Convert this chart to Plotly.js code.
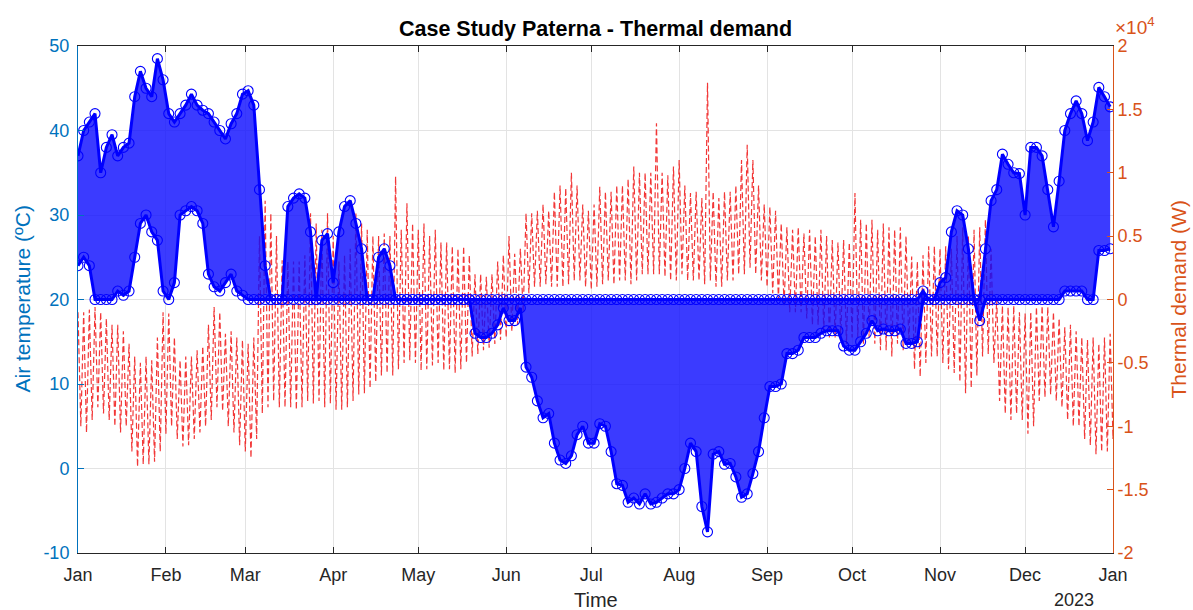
<!DOCTYPE html>
<html>
<head>
<meta charset="utf-8">
<script src="https://cdn.plot.ly/plotly-3.0.1.min.js"></script>
<style>html,body{margin:0;padding:0;background:#fff}#chart{width:1193px;height:610px}</style>
</head>
<body>
<div id="chart"></div>
<script>
// Sampling: one entry every 2 days starting 2022-01-01 (183 entries)
const startDate = '2022-01-01';
const stepDays = 2;

// Air temperature envelope (ºC): upper and lower edge of the hourly cloud of circles
const tempHigh = [
 37,40,41,42,35,38,39.5,37,38,38.5,44,47,45,44,48.5,46,42,41,42,43,
 44.3,43,42.4,42,41,40,39,40.8,42,44.3,44.7,43,33,24,20,20,20,31,32,32.5,
 32,28,20,27,27.8,22,28,31,31.7,29,26,20,20,25,26,24,
 20,20,20,20,20,20,20,20,20,20,20,20,20,20,20,20,20,20,20,20,
 20,20,20,20,20,20,20,20,20,20,20,20,20,20,20,20,20,20,20,20,
 20,20,20,20,20,20,20,20,20,20,20,20,20,20,20,20,20,20,20,20,
 20,20,20,20,20,20,20,20,20,20,20,20,20,20,20,20,20,20,20,20,
 20,20,20,20,20,20,20,20,20,20,20,20,20,21,20,20,
 22,22.6,28,30.5,30,26,20,20,26,31.7,33,37.2,36,35,34.9,30,38,38,37,33,
 28.6,34,40,42,43.5,42,38.8,41,45.1,44,42.8
];
const tempLow = [
 24,25,24,20,20,20,20,21,20.5,21,25,29,30,28,27,21,20,22,30,30.5,
 31,30.5,29,23,21.5,21,22,23,21,20.5,20,20,
 20,20,20,20,20,20,20,20,20,20,20,20,20,20,20,20,20,20,20,20,
 20,20,20,20,20,20,20,20,20,20,20,20,20,20,20,20,20,20,
 16,15.5,15.5,16,17,19,17.5,17.5,19,12,10.8,8,6,6.5,3,1,0.6,1.5,4,5,
 3,3,5.3,5,2,-1.8,-2,-4,-3.5,-4.2,-3,-4.2,-4,-3.5,-3,-3,-2.5,0,3,2,
 -4.5,-7.5,1.7,2,0.5,0.6,-1,-3.4,-3,-0.6,2,6,9.7,9.7,10,13.6,13.6,14,15.5,15.5,
 15.5,16,16.3,16.3,16.3,14.5,14,14,15,16,17.5,16.3,16.5,16.3,16.3,16.5,14.8,14.8,15,
 20,20,20,20,20,20,20,20,20,20,
 17.5,
 20,20,20,20,20,20,20,20,20,20,20,20,20,20,
 21,21,21,21,20,20,25.8,25.8,26
];

// Thermal demand envelope (x10^4 W): daily peak and daily trough
const demandHigh = [
 -0.1,-0.1,-0.08,-0.06,-0.1,-0.15,-0.2,-0.2,-0.25,-0.35,-0.45,-0.5,-0.45,-0.48,-0.3,-0.1,-0.11,-0.3,-0.48,-0.45,
 -0.45,-0.4,-0.37,-0.2,-0.06,-0.1,-0.27,-0.25,-0.3,-0.32,-0.35,-0.3,0.5,0.78,0.68,0.5,0.31,0.3,0.3,0.3,
 0.35,0.68,0.6,0.55,0.68,0.5,0.3,0.35,0.4,0.68,0.6,0.55,0.5,0.5,0.52,0.5,0.97,0.55,0.76,0.6,
 0.55,0.6,0.5,0.55,0.45,0.45,0.42,0.4,0.42,0.35,0.2,0.2,0.18,0.2,0.3,0.35,0.5,0.36,0.4,0.68,
 0.68,0.7,0.75,0.7,0.85,0.9,0.88,1.0,0.9,0.75,0.7,0.75,0.89,0.85,0.85,0.9,0.9,0.95,1.05,1.0,
 1.0,1.0,1.39,1.0,0.98,1.05,1.1,0.9,0.84,0.85,0.8,1.71,0.85,0.8,0.85,0.85,0.9,1.1,1.22,1.1,
 0.9,0.75,0.73,0.7,0.6,0.57,0.55,0.57,0.52,0.55,0.5,0.55,0.5,0.47,0.45,0.47,0.45,0.84,0.63,0.6,
 0.63,0.55,0.6,0.57,0.55,0.57,0.5,0.34,0.3,0.35,0.42,0.42,0.4,0.42,0.4,0.5,0.57,0.5,0.55,0.57,
 0.63,0.4,0.0,-0.05,-0.06,-0.05,-0.1,-0.11,-0.1,-0.06,-0.05,-0.06,-0.1,-0.15,-0.22,-0.2,-0.25,-0.3,-0.32,-0.3,
 -0.35,-0.3,-0.27,-0.3
];
const demandLow = [
 -1.0,-1.05,-0.95,-0.85,-0.9,-0.95,-1.0,-1.05,-1.0,-1.2,-1.32,-1.3,-1.3,-1.28,-1.2,-1.06,-1.0,-1.1,-1.16,-1.15,
 -1.1,-1.05,-1.0,-0.95,-0.85,-0.88,-1.0,-1.05,-1.15,-1.2,-1.25,-1.1,-0.9,-0.85,-0.8,-0.85,-0.85,-0.85,-0.87,-0.85,
 -0.8,-0.82,-0.8,-0.85,-0.82,-0.87,-0.87,-0.85,-0.8,-0.75,-0.74,-0.7,-0.65,-0.6,-0.58,-0.6,-0.55,-0.5,-0.48,-0.5,
 -0.56,-0.55,-0.52,-0.5,-0.56,-0.55,-0.58,-0.55,-0.5,-0.45,-0.43,-0.4,-0.38,-0.35,-0.32,-0.3,-0.25,-0.2,-0.1,0.05,
 0.1,0.1,0.12,0.1,0.1,0.1,0.12,0.15,0.15,0.1,0.08,0.1,0.12,0.15,0.12,0.15,0.15,0.12,0.15,0.2,
 0.2,0.2,0.2,0.18,0.15,0.15,0.2,0.15,0.15,0.15,0.12,0.15,0.1,0.1,0.15,0.15,0.2,0.2,0.25,0.2,
 0.15,0.1,0.05,0.0,-0.05,-0.1,-0.1,-0.1,-0.15,-0.2,-0.2,-0.25,-0.3,-0.3,-0.3,-0.35,-0.3,-0.3,-0.35,-0.3,
 -0.35,-0.4,-0.4,-0.45,-0.35,-0.4,-0.35,-0.55,-0.61,-0.5,-0.45,-0.45,-0.5,-0.55,-0.58,-0.65,-0.74,-0.7,-0.6,-0.45,
 -0.43,-0.5,-0.8,-0.9,-0.95,-0.9,-0.95,-1.06,-1.0,-0.8,-0.77,-0.75,-0.8,-0.85,-0.95,-1.0,-1.0,-1.1,-1.15,-1.22,
 -1.2,-1.2,-1.1,-1.06
];

// Axis tick labels
const monthTicks = ['2022-01-01','2022-02-01','2022-03-01','2022-04-01','2022-05-01','2022-06-01','2022-07-01',
  '2022-08-01','2022-09-01','2022-10-01','2022-11-01','2022-12-01','2023-01-01'];
const monthLabels = ['Jan','Feb','Mar','Apr','May','Jun','Jul','Aug','Sep','Oct','Nov','Dec','Jan'];
const tempTicks = [-10, 0, 10, 20, 30, 40, 50];
const tempTickLabels = ['-10', '0', '10', '20', '30', '40', '50'];
const demandTicks = [-2, -1.5, -1, -0.5, 0, 0.5, 1, 1.5, 2];
const demandTickLabels = ['-2', '-1.5', '-1', '-0.5', '0', '0.5', '1', '1.5', '2'];

// ---------- build time stamps ----------
const DAY = 86400000;
const t0 = Date.parse(startDate + 'T00:00:00Z');
function iso(ms){ return new Date(ms).toISOString().slice(0,19).replace('T',' '); }
const dates = tempHigh.map((_, i) => iso(t0 + i * stepDays * DAY));
// demand: daily peak then daily trough
const dX = [], dY = [];
demandHigh.forEach((v, i) => {
  dX.push(iso(t0 + i * stepDays * DAY)); dY.push(v);
  dX.push(iso(t0 + (i * stepDays + 1) * DAY)); dY.push(demandLow[i]);
});

const FONT = 'Liberation Sans, Arial, Helvetica, sans-serif';
const BLUE_AX = '#0072BD';
const ORANGE_AX = '#D95319';
const circleMarker = { symbol: 'circle-open', size: 10, color: '#0000FF', line: { width: 1.1, color: '#0000FF' } };

const traces = [
  { x: dX, y: dY, type: 'scatter', mode: 'lines', yaxis: 'y', hoverinfo: 'skip',
    line: { color: 'rgba(240,20,20,0.85)', width: 1.2, dash: '6px,3px' }, showlegend: false },
  { x: dates, y: tempLow, type: 'scatter', mode: 'lines', yaxis: 'y2', hoverinfo: 'skip',
    line: { width: 0, color: 'rgba(0,0,255,0)' }, showlegend: false },
  { x: dates, y: tempHigh, type: 'scatter', mode: 'lines', yaxis: 'y2', hoverinfo: 'skip',
    line: { width: 0, color: 'rgba(0,0,255,0)' }, fill: 'tonexty', fillcolor: 'rgba(10,10,255,0.8)', showlegend: false },
  { x: dates, y: tempLow, type: 'scatter', mode: 'lines+markers', yaxis: 'y2',
    line: { color: '#0000FF', width: 3 }, marker: circleMarker, showlegend: false },
  { x: dates, y: tempHigh, type: 'scatter', mode: 'lines+markers', yaxis: 'y2',
    line: { color: '#0000FF', width: 3 }, marker: circleMarker, showlegend: false }
];

const layout = {
  width: 1193, height: 610,
  margin: { l: 78, r: 80, t: 46, b: 57 },
  paper_bgcolor: '#fff', plot_bgcolor: '#fff',
  font: { family: FONT, color: '#262626', size: 18 },
  showlegend: false,
  title: { text: '<b>Case Study Paterna - Thermal demand</b>', x: 0.5, xref: 'paper', xanchor: 'center',
           y: 1 - 28/610, yanchor: 'middle', font: { family: FONT, size: 21.5, color: '#000' } },
  xaxis: {
    type: 'date', range: ['2022-01-01', '2023-01-01'],
    tickmode: 'array', tickvals: monthTicks, ticktext: monthLabels,
    ticks: 'inside', ticklen: 6, tickcolor: '#262626', tickwidth: 1, ticklabelstandoff: 5,
    showline: true, linecolor: '#262626', linewidth: 1, mirror: 'ticks',
    showgrid: true, gridcolor: '#e3e3e3', gridwidth: 1, zeroline: false,
    tickfont: { family: FONT, size: 18, color: '#262626' }, anchor: 'y2'
  },
  yaxis: {
    side: 'right', range: [-2, 2],
    tickmode: 'array', tickvals: demandTicks, ticktext: demandTickLabels,
    ticks: 'inside', ticklen: 6, tickcolor: ORANGE_AX,
    showline: true, linecolor: ORANGE_AX, linewidth: 1,
    showgrid: false, zeroline: false,
    tickfont: { family: FONT, size: 18, color: ORANGE_AX }
  },
  yaxis2: {
    overlaying: 'y', side: 'left', range: [-10, 50],
    tickmode: 'array', tickvals: tempTicks, ticktext: tempTickLabels,
    ticks: 'inside', ticklen: 6, tickcolor: BLUE_AX, ticklabelstandoff: 4,
    showline: true, linecolor: BLUE_AX, linewidth: 1,
    showgrid: true, gridcolor: '#e3e3e3', zeroline: false,
    tickfont: { family: FONT, size: 18, color: BLUE_AX }
  },
  annotations: [
    { text: 'Time', xref: 'paper', yref: 'paper', x: 0.5, y: -(600-553)/507, xanchor: 'center', yanchor: 'middle',
      showarrow: false, font: { family: FONT, size: 20, color: '#262626' } },
    { text: '2023', xref: 'paper', yref: 'paper', x: (1074-78)/1035, y: -(600-553)/507, xanchor: 'center', yanchor: 'middle',
      showarrow: false, font: { family: FONT, size: 18, color: '#262626' } },
    { text: 'Air temperature (ºC)', xref: 'paper', yref: 'paper', x: (22-78)/1035, y: 0.5, textangle: -90,
      xanchor: 'center', yanchor: 'middle', showarrow: false, font: { family: FONT, size: 21, color: BLUE_AX } },
    { text: 'Thermal demand (W)', xref: 'paper', yref: 'paper', x: (1178-78)/1035, y: 0.5, textangle: -90,
      xanchor: 'center', yanchor: 'middle', showarrow: false, font: { family: FONT, size: 21, color: ORANGE_AX } },
    { text: '×10<sup>4</sup>', xref: 'paper', yref: 'paper', x: (1113-78)/1035, y: 1 + (46-40)/507,
      xanchor: 'left', yanchor: 'bottom', showarrow: false, font: { family: FONT, size: 19, color: ORANGE_AX } }
  ]
};

Plotly.newPlot('chart', traces, layout, { staticPlot: true, displayModeBar: false });
</script>
</body>
</html>
